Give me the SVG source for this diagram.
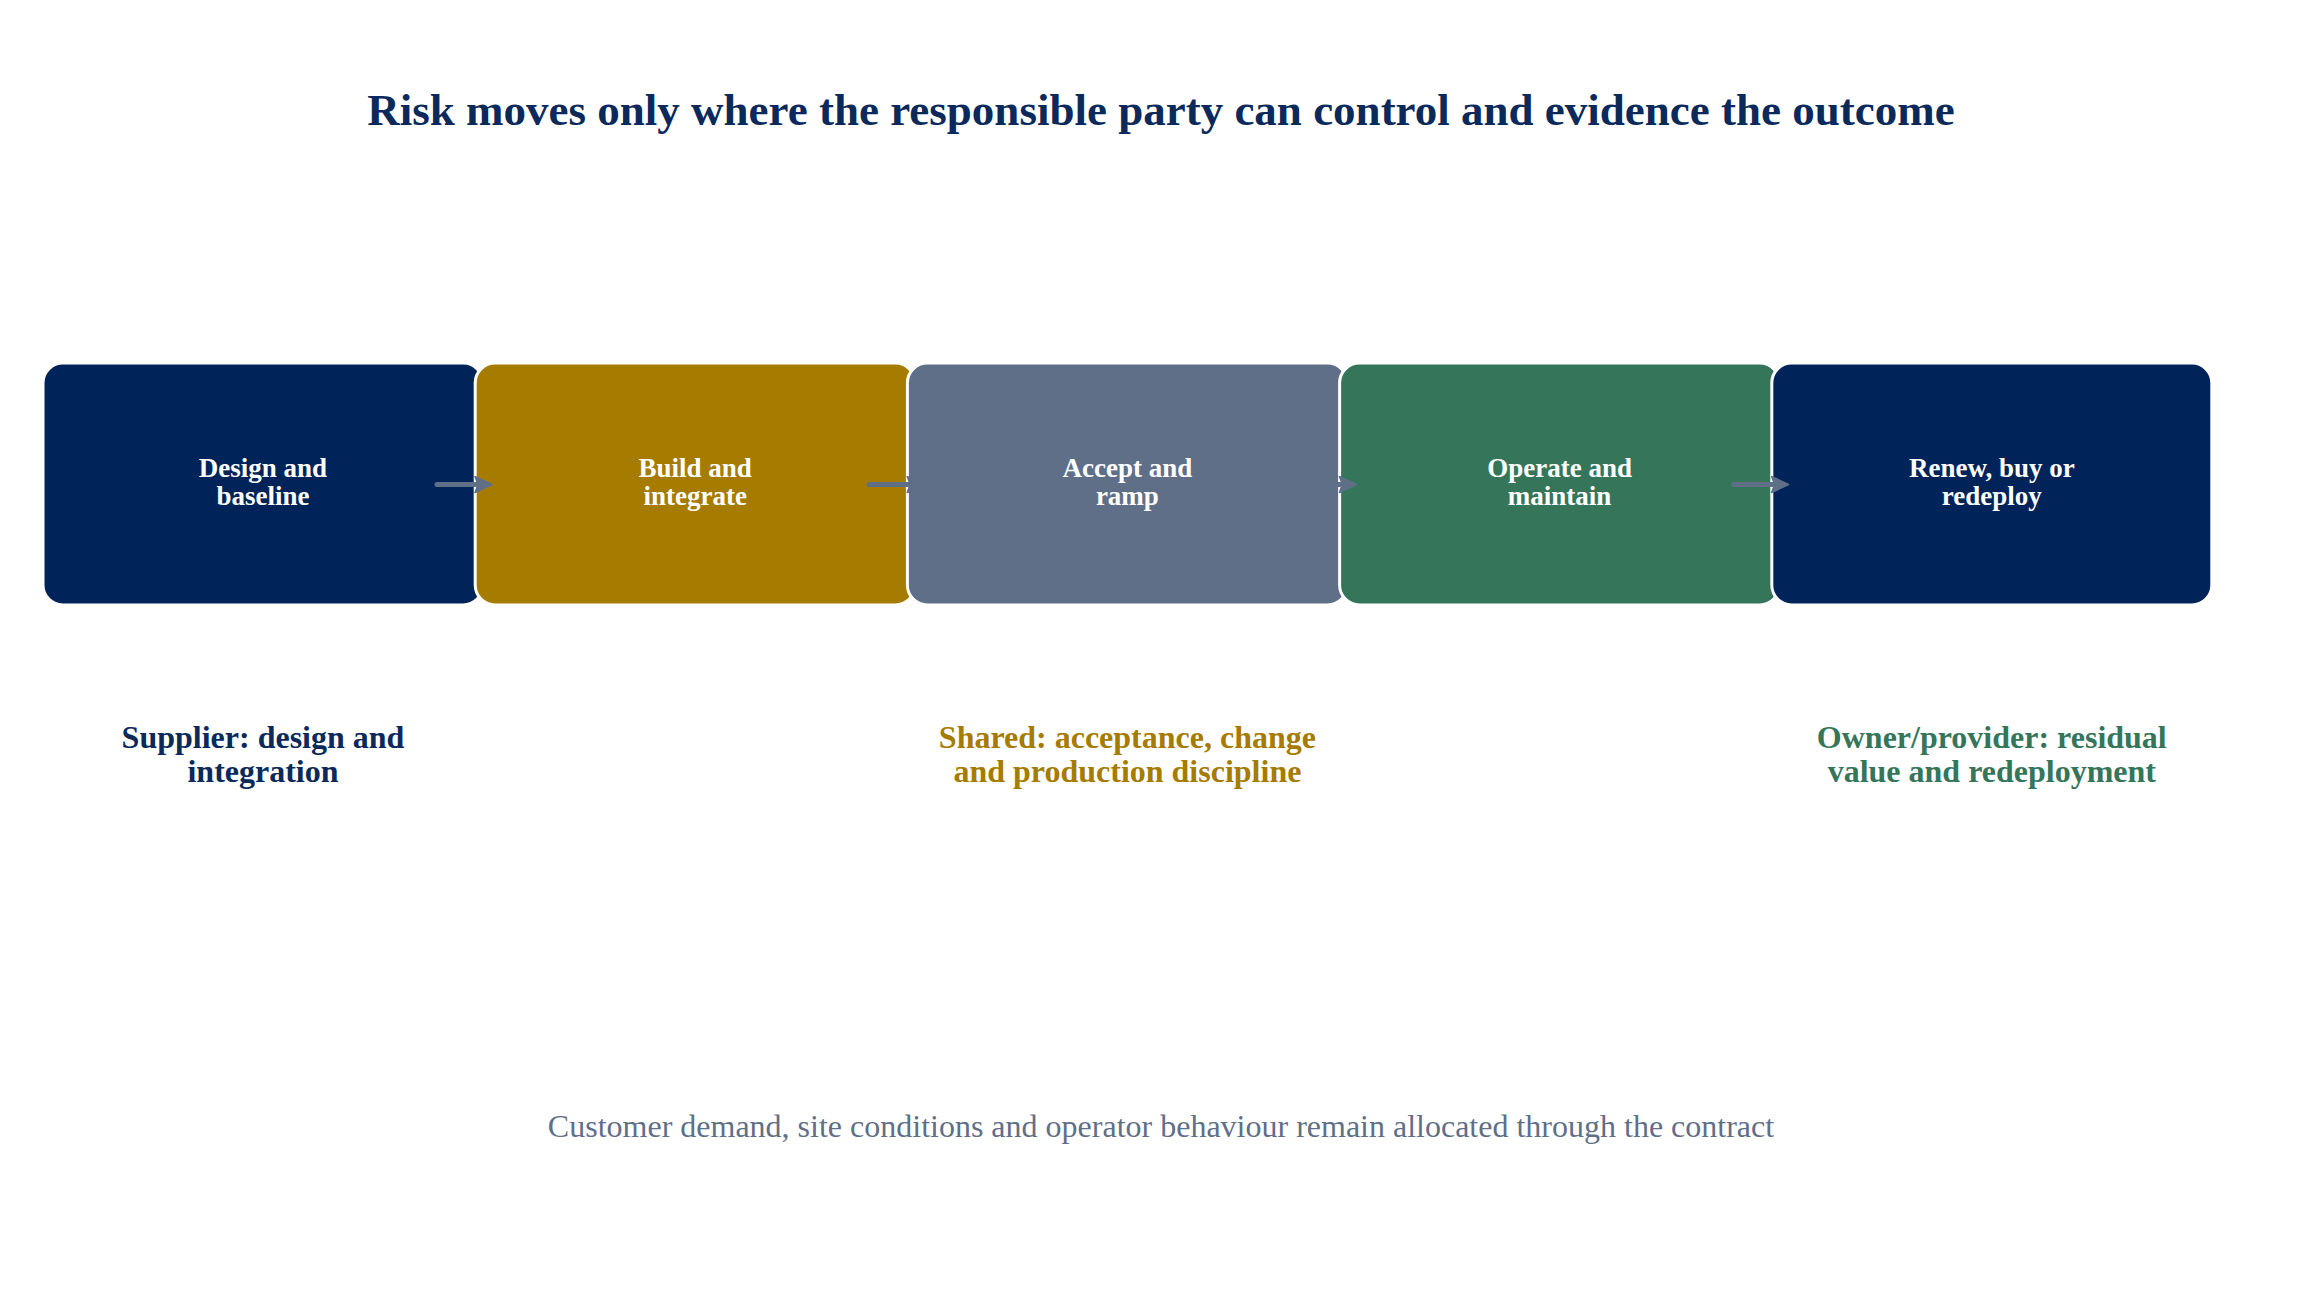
<svg xmlns="http://www.w3.org/2000/svg" width="2323" height="1311" viewBox="0 0 2323 1311">
<defs>
<style>
.box{stroke:#ffffff;stroke-width:3}
.navy{fill:#00245a}
.gold{fill:#a67c00}
.slate{fill:#5f6f88}
.green{fill:#35765b}
.ntext{font-family:"Liberation Serif","Times New Roman",serif;font-weight:bold;font-size:27px;fill:#ffffff;text-anchor:middle}
.lab{font-family:"Liberation Serif","Times New Roman",serif;font-weight:bold;font-size:32px;text-anchor:middle}
.title{font-family:"Liberation Serif","Times New Roman",serif;font-weight:bold;font-size:45px;fill:#0b2a5b;text-anchor:middle}
.foot{font-family:"Liberation Serif","Times New Roman",serif;font-size:32px;fill:#5f6f88;text-anchor:middle}
.conn{stroke:#5f6f88;stroke-width:5;stroke-linecap:round;fill:none}
</style>
<marker id="ah" viewBox="0 0 19 18" refX="12" refY="9" markerWidth="19" markerHeight="18" markerUnits="userSpaceOnUse" orient="auto">
<path d="M1,1 L18,9 L1,17 L4,9 z" fill="#5f6f88" stroke="#5f6f88" stroke-width="1.5" stroke-linejoin="round"/>
</marker>
</defs>
<rect width="2323" height="1311" fill="#ffffff"/>
<text class="title" x="1161" y="125">Risk moves only where the responsible party can control and evidence the outcome</text>
<g id="n1">
<rect class="box navy" x="43" y="363" width="440" height="242" rx="20"/>
<text class="ntext" x="263" y="477">Design and</text>
<text class="ntext" x="263" y="505">baseline</text>
</g>
<g id="n2">
<rect class="box gold" x="475.2" y="363" width="440" height="242" rx="20"/>
<text class="ntext" x="695.2" y="477">Build and</text>
<text class="ntext" x="695.2" y="505">integrate</text>
</g>
<g id="n3">
<rect class="box slate" x="907.4" y="363" width="440" height="242" rx="20"/>
<text class="ntext" x="1127.4" y="477">Accept and</text>
<text class="ntext" x="1127.4" y="505">ramp</text>
</g>
<g id="n4">
<rect class="box green" x="1339.6" y="363" width="440" height="242" rx="20"/>
<text class="ntext" x="1559.6" y="477">Operate and</text>
<text class="ntext" x="1559.6" y="505">maintain</text>
</g>
<g id="n5">
<rect class="box navy" x="1771.8" y="363" width="440" height="242" rx="20"/>
<text class="ntext" x="1991.8" y="477">Renew, buy or</text>
<text class="ntext" x="1991.8" y="505">redeploy</text>
</g>
<g id="connectors">
<line class="conn" x1="437" y1="484.5" x2="486" y2="484.5" marker-end="url(#ah)"/>
<line class="conn" x1="869.2" y1="484.5" x2="918.2" y2="484.5" marker-end="url(#ah)"/>
<line class="conn" x1="1301.4" y1="484.5" x2="1350.4" y2="484.5" marker-end="url(#ah)"/>
<line class="conn" x1="1733.6" y1="484.5" x2="1782.6" y2="484.5" marker-end="url(#ah)"/>
</g>
<g id="labels">
<text class="lab" x="263" y="748" fill="#0b2a5b">Supplier: design and</text>
<text class="lab" x="263" y="782" fill="#0b2a5b">integration</text>
<text class="lab" x="1127.4" y="748" fill="#a67c00">Shared: acceptance, change</text>
<text class="lab" x="1127.4" y="782" fill="#a67c00">and production discipline</text>
<text class="lab" x="1991.8" y="748" fill="#35765b">Owner/provider: residual</text>
<text class="lab" x="1991.8" y="782" fill="#35765b">value and redeployment</text>
</g>
<text class="foot" x="1161" y="1137">Customer demand, site conditions and operator behaviour remain allocated through the contract</text>
</svg>
